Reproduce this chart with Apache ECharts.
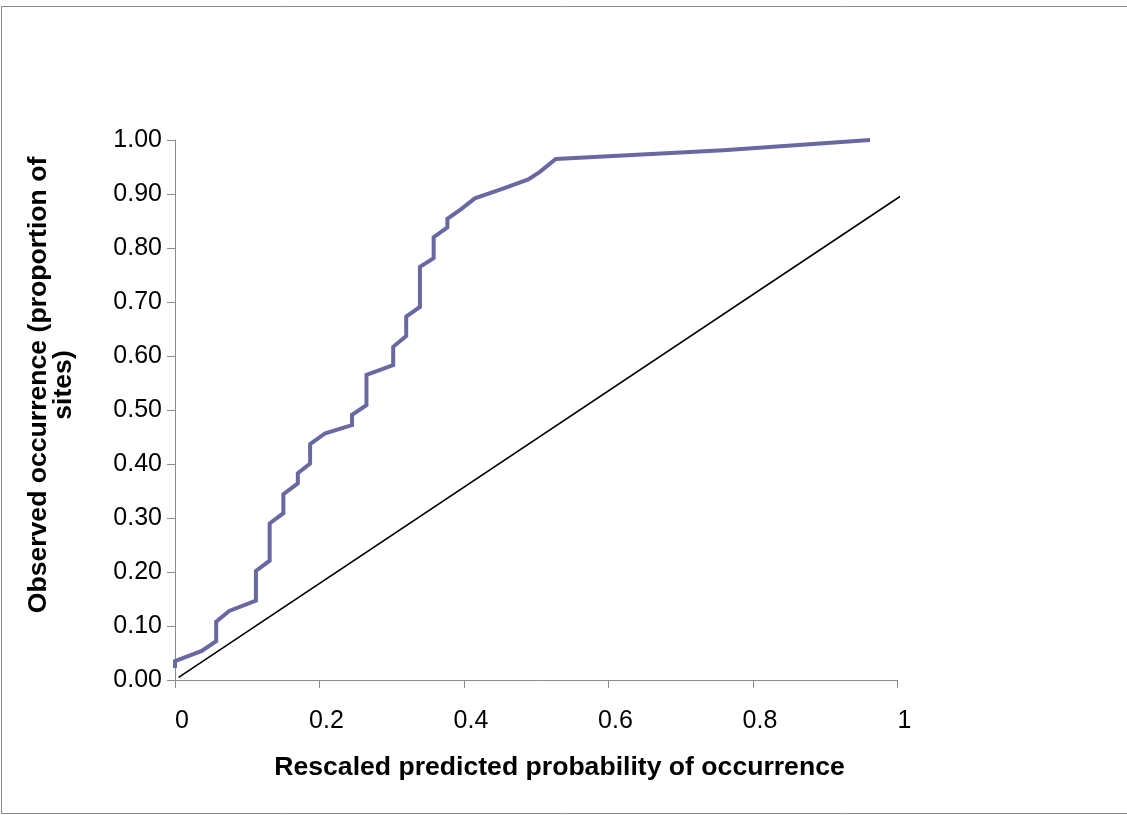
<!DOCTYPE html>
<html>
<head>
<meta charset="utf-8">
<script src="https://cdn.jsdelivr.net/npm/echarts@6/dist/echarts.min.js"></script>
<style>
  html, body { margin: 0; padding: 0; background: #fff; }
  #chart { width: 1127px; height: 815px; }
</style>
</head>
<body>
<div id="chart"></div>
<script>
// observed vs rescaled predicted (step-like curve)
const predicted = [0, 0, 0.037, 0.057, 0.057, 0.075, 0.112, 0.112, 0.131, 0.131, 0.150, 0.150, 0.170, 0.170,
  0.187, 0.187, 0.208, 0.245, 0.245, 0.265, 0.265, 0.302, 0.302, 0.320, 0.320, 0.339, 0.339, 0.358, 0.358,
  0.377, 0.377, 0.397, 0.415, 0.452, 0.489, 0.505, 0.527, 0.759, 0.962];
const observed = [0.022, 0.035, 0.054, 0.072, 0.108, 0.128, 0.147, 0.202, 0.221, 0.290, 0.309, 0.344, 0.364, 0.383,
  0.401, 0.437, 0.457, 0.472, 0.491, 0.509, 0.565, 0.583, 0.617, 0.637, 0.673, 0.691, 0.765, 0.781, 0.820,
  0.838, 0.854, 0.873, 0.892, 0.909, 0.927, 0.941, 0.965, 0.981, 1.000];
// reference line
const refX = [0.005, 1.004];
const refY = [0.005, 0.896];

const xTitle = 'Rescaled predicted probability of occurrence';
const yTitle = 'Observed occurrence (proportion of\nsites)';

const font = '"Liberation Sans", Arial, sans-serif';
const axisGray = '#8c8c8c';

var myChart = echarts.init(document.getElementById('chart'));

const getOptions = () => {
  return {
    animation: false,
    backgroundColor: '#fff',
    grid: { left: 175, right: 229.5, top: 140, bottom: 135 },
    xAxis: {
      type: 'value',
      min: 0,
      max: 1,
      interval: 0.2,
      axisLine: { show: true, lineStyle: { color: axisGray, width: 1 } },
      axisTick: { show: true, inside: false, length: 8, lineStyle: { color: axisGray } },
      axisLabel: {
        color: '#000',
        fontFamily: font,
        fontSize: 25,
        margin: 29,
        padding: [0, 0, 0, 14]
      },
      splitLine: { show: false }
    },
    yAxis: {
      type: 'value',
      min: 0,
      max: 1,
      interval: 0.1,
      axisLine: { show: true, lineStyle: { color: axisGray, width: 1 } },
      axisTick: { show: true, inside: false, length: 8, lineStyle: { color: axisGray } },
      axisLabel: {
        color: '#000',
        fontFamily: font,
        fontSize: 25,
        margin: 13,
        formatter: val => val.toFixed(2)
      },
      splitLine: { show: false }
    },
    series: [
      {
        type: 'line',
        data: refX.map((x, i) => [x, refY[i]]),
        symbol: 'none',
        clip: false,
        lineStyle: { color: '#000', width: 1.6 }
      },
      {
        type: 'line',
        data: predicted.map((x, i) => [x, observed[i]]),
        symbol: 'none',
        clip: false,
        lineStyle: { color: '#6868a2', width: 4, cap: 'butt', join: 'miter' }
      }
    ],
    graphic: [
      {
        type: 'rect',
        shape: { x: 1.5, y: 6.5, width: 1130, height: 807 },
        style: { fill: 'none', stroke: '#888', lineWidth: 1 }
      },
      {
        type: 'text',
        x: 559.5,
        y: 768,
        style: {
          text: xTitle,
          font: 'bold 26.6px ' + font,
          fill: '#000',
          align: 'center',
          verticalAlign: 'middle'
        }
      },
      {
        type: 'text',
        x: 51,
        y: 385,
        rotation: Math.PI / 2,
        style: {
          text: yTitle,
          font: 'bold 26.6px ' + font,
          lineHeight: 25,
          fill: '#000',
          align: 'center',
          verticalAlign: 'middle'
        }
      }
    ]
  };
};

myChart.setOption(getOptions(), true);
</script>
</body>
</html>
